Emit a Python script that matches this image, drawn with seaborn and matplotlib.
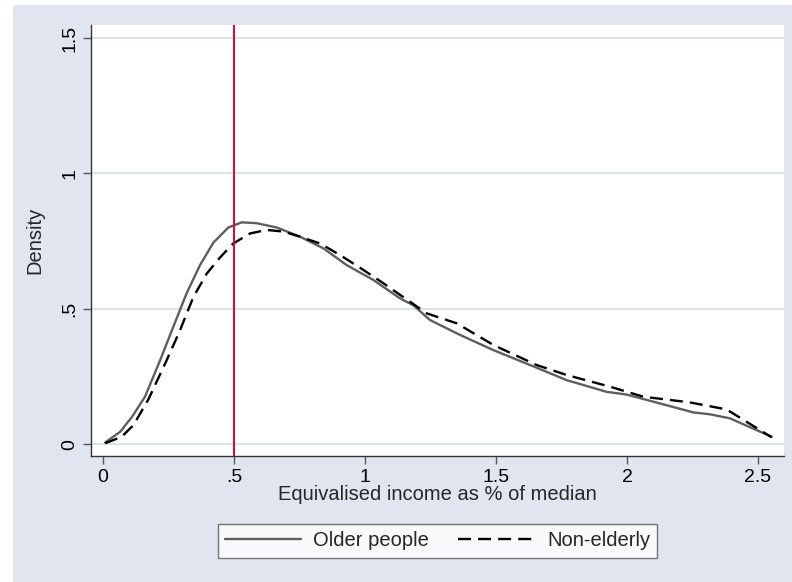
import numpy as np
import pandas as pd
import matplotlib
matplotlib.use("Agg")
import matplotlib.pyplot as plt
import seaborn as sns
from matplotlib.patches import Rectangle
from matplotlib.lines import Line2D

# ---- data ----
older_x = [0.008, 0.065, 0.11, 0.160, 0.218, 0.268, 0.319, 0.370, 0.421, 0.478, 0.529, 0.586,
           0.663, 0.752, 0.841, 0.930, 1.032, 1.134, 1.184, 1.248, 1.363, 1.490, 1.630,
           1.77, 1.922, 1.998, 2.126, 2.253, 2.317, 2.393, 2.552]
older_y = [0.006, 0.045, 0.10, 0.175, 0.31, 0.433, 0.557, 0.661, 0.744, 0.80, 0.819, 0.816,
           0.800, 0.766, 0.723, 0.661, 0.606, 0.538, 0.513, 0.458, 0.403, 0.347, 0.292,
           0.236, 0.193, 0.183, 0.150, 0.117, 0.110, 0.095, 0.027]
nonel_x = [0.008, 0.071, 0.116, 0.173, 0.243, 0.294, 0.345, 0.396, 0.447, 0.497, 0.561, 0.625,
           0.688, 0.752, 0.828, 0.905, 0.994, 1.07, 1.235, 1.35, 1.49, 1.655, 1.77,
           1.935, 2.062, 2.24, 2.38, 2.445, 2.552]
nonel_y = [0.003, 0.027, 0.07, 0.165, 0.31, 0.421, 0.544, 0.630, 0.690, 0.741, 0.778, 0.791,
           0.785, 0.766, 0.741, 0.698, 0.643, 0.594, 0.483, 0.446, 0.366, 0.292, 0.255,
           0.212, 0.175, 0.154, 0.128, 0.089, 0.025]
series_names = ["Older people", "Non-elderly"]
poverty_line = 0.5
x_ticks = [0, 0.5, 1, 1.5, 2, 2.5]
x_ticklabels = ["0", ".5", "1", "1.5", "2", "2.5"]
y_ticks = [0, 0.5, 1, 1.5]
y_ticklabels = ["0", ".5", "1", "1.5"]
x_label = "Equivalised income as % of median"
y_label = "Density"

df = pd.concat([
    pd.DataFrame({"x": older_x, "y": older_y, "group": series_names[0]}),
    pd.DataFrame({"x": nonel_x, "y": nonel_y, "group": series_names[1]}),
], ignore_index=True)

sns.set_theme(style="white")
plt.rcParams["font.family"] = ["Liberation Sans", "DejaVu Sans"]

W, H = 792, 582
fig = plt.figure(figsize=(W / 100, H / 100), dpi=100, facecolor="white")
bg = "#E0E5EF"
fig.patches.append(Rectangle((13 / W, 0), 1 - 13 / W, (H - 5) / H, transform=fig.transFigure,
                             facecolor=bg, edgecolor="none", zorder=-10))

ax = fig.add_axes([91 / W, (H - 456) / H, (784 - 91) / W, (456 - 25) / H])
ax.set_facecolor("white")

grid_col = "#D8DFEC"
for yv in y_ticks:
    ax.axhline(yv, color=grid_col, lw=1.3, zorder=0)

dash = (5.5, 3.0)
colors = {"Older people": "#5E5E5E", "Non-elderly": "black"}
sns.lineplot(data=df, x="x", y="y", hue="group", style="group", sort=False,
             palette=colors, dashes={"Older people": "", "Non-elderly": dash},
             linewidth=1.7, ax=ax, legend=False, estimator=None)
ax.axvline(poverty_line, color="#C8103A", lw=1.5, zorder=3)

ax.set_xlim(-0.046, 2.599)
ax.set_ylim(-0.044, 1.548)
ax.set_xticks(x_ticks)
ax.set_xticklabels(x_ticklabels)
ax.set_yticks(y_ticks)
ax.set_yticklabels(y_ticklabels, rotation=90, va="center")
ax.tick_params(axis="both", which="major", direction="out", length=6, width=1,
               color="#555555", labelsize=14, labelcolor="black", pad=3,
               bottom=True, left=True)
for s in ["top", "right"]:
    ax.spines[s].set_visible(False)
for s in ["left", "bottom"]:
    ax.spines[s].set_color("#333333")
    ax.spines[s].set_linewidth(1.0)

ax.set_xlabel(x_label, fontsize=14.5, labelpad=0)
ax.set_ylabel(y_label, fontsize=14.5, labelpad=12)

handles = [Line2D([0], [0], color=colors["Older people"], lw=1.7),
           Line2D([0], [0], color="black", lw=1.7, dashes=dash)]
leg = fig.legend(handles, series_names, loc="center", bbox_to_anchor=(437.5 / W, (H - 541) / H),
                 ncol=2, frameon=True, fancybox=False, fontsize=14.5, handlelength=3.8,
                 columnspacing=1.45, handletextpad=0.6, borderpad=0.35, borderaxespad=0)
leg.get_frame().set_edgecolor("#555555")
leg.get_frame().set_facecolor("white")
leg.get_frame().set_linewidth(1.0)

fig.savefig("out.png", dpi=100, facecolor="white")
